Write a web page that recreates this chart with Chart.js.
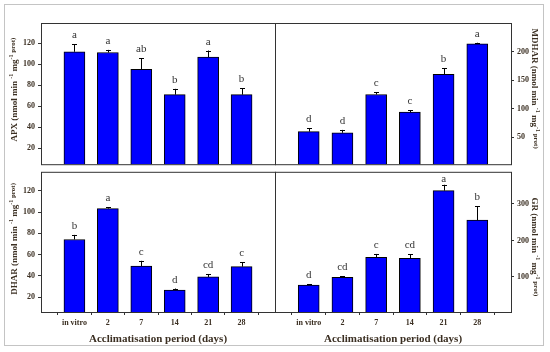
<!DOCTYPE html>
<html>
<head>
<meta charset="utf-8">
<script src="https://cdn.jsdelivr.net/npm/chart.js@4"></script>
<style>
  body { margin: 0; background: #fff; }
  #stage { position: relative; width: 550px; height: 352px; overflow: hidden; }
  #frame { position: absolute; left: 4px; top: 4px; width: 540px; height: 342px; border: 1px solid #c4c4c4; box-sizing: border-box; }
  canvas { position: absolute; }
  #tl { left: 0; top: 0; }
  #tr { left: 272px; top: 0; }
  #bl { left: 0; top: 164px; }
  #br { left: 272px; top: 164px; }
</style>
</head>
<body>
<div id="stage">
  <div id="frame"></div>
  <canvas id="tl" width="280" height="172"></canvas>
  <canvas id="tr" width="278" height="172"></canvas>
  <canvas id="bl" width="280" height="188"></canvas>
  <canvas id="br" width="278" height="188"></canvas>
</div>
<script>
const periods = ['in vitro', '2', '7', '14', '21', '28'];

const apx = [111.7, 111, 95, 71, 106.7, 71];
const apxErr = [7.3, 2.5, 10.7, 5.5, 6.2, 6];
const apxLetters = ['a', 'a', 'ab', 'b', 'a', 'b'];
const apxTicks = [20, 40, 60, 80, 100, 120];

const mdhar = [60, 58, 125, 94, 160, 213.5];
const mdharErr = [6, 5, 4, 3.5, 11, 2];
const mdharLetters = ['d', 'd', 'c', 'c', 'b', 'a'];
const mdharTicks = [50, 100, 150, 200];

const dhar = [74.3, 103.4, 49.3, 26.6, 39, 48.7];
const dharErr = [4.3, 1.2, 4.9, 1.5, 2.8, 4.3];
const dharLetters = ['b', 'a', 'c', 'd', 'cd', 'c'];
const dharTicks = [20, 40, 60, 80, 100, 120];

const gr = [78, 99, 154, 151, 336.5, 255.5];
const grErr = [2, 3.5, 9, 10.5, 16, 38.5];
const grLetters = ['d', 'cd', 'c', 'cd', 'a', 'b'];
const grTicks = [100, 200, 300];

const xTitle = 'Acclimatisation period (days)';

const LABEL_COLOR = '#3b2f22';
const LINE_COLOR = '#333';
const SERIF = "'Liberation Serif', 'DejaVu Serif', serif";

// one empty slot on each side so bar centres sit at 1..6 of 0..7
const paddedLabels = ['', ...periods, ''];
const pad = (arr) => [null, ...arr, null];

function titleParts(name) {
  const main = `bold 9px ${SERIF}`;
  const sup = `bold 6px ${SERIF}`;
  return [
    { text: `${name} (nmol min `, font: main, dy: 0 },
    { text: '-1', font: sup, dy: -4 },
    { text: ' mg', font: main, dy: 0 },
    { text: '-1', font: sup, dy: -4 },
    { text: ' prot)', font: `bold 7px ${SERIF}`, dy: -2 }
  ];
}

function drawRotated(ctx, parts, cx, cy, angle) {
  ctx.save();
  ctx.translate(cx, cy);
  ctx.rotate(angle);
  let total = 0;
  parts.forEach((p) => {
    ctx.font = p.font;
    total += ctx.measureText(p.text).width;
  });
  let x = -total / 2;
  ctx.textAlign = 'left';
  ctx.textBaseline = 'middle';
  ctx.fillStyle = LABEL_COLOR;
  parts.forEach((p) => {
    ctx.font = p.font;
    ctx.fillText(p.text, x, p.dy);
    x += ctx.measureText(p.text).width;
  });
  ctx.restore();
}

// box, error bars, letters and titles
const panelDecor = {
  id: 'panelDecor',
  afterDatasetsDraw(chart) {
    const cfg = chart.options.plugins.panelDecor;
    const { ctx, chartArea: a } = chart;
    const yScale = chart.scales.y;
    const meta = chart.getDatasetMeta(0);

    ctx.save();
    ctx.strokeStyle = LINE_COLOR;
    ctx.lineWidth = 1;
    ctx.strokeRect(a.left + 0.5, a.top + 0.5, a.right - a.left, a.bottom - a.top);

    ctx.strokeStyle = '#000';
    meta.data.forEach((bar, i) => {
      const idx = i - 1;
      if (idx < 0 || idx >= cfg.values.length) return;
      const top = yScale.getPixelForValue(cfg.values[idx] + cfg.errors[idx]);
      const x = Math.round(bar.x) + 0.5;
      ctx.beginPath();
      ctx.moveTo(x, bar.y);
      ctx.lineTo(x, top);
      ctx.moveTo(x - 2.5, Math.round(top) + 0.5);
      ctx.lineTo(x + 2.5, Math.round(top) + 0.5);
      ctx.stroke();

      ctx.fillStyle = '#333';
      ctx.font = `11px ${SERIF}`;
      ctx.textAlign = 'center';
      ctx.textBaseline = 'alphabetic';
      const base = Math.max(top - 6, a.top + 10);
      ctx.fillText(cfg.letters[idx], bar.x, base);
    });

    const midY = (a.top + a.bottom) / 2 + cfg.titleShift;
    if (cfg.side === 'left') {
      drawRotated(ctx, titleParts(cfg.name), a.left - 26, midY, -Math.PI / 2);
    } else {
      drawRotated(ctx, titleParts(cfg.name), a.right + 23, midY, Math.PI / 2);
    }

    if (cfg.showX) {
      ctx.fillStyle = LABEL_COLOR;
      ctx.font = `bold 11px ${SERIF}`;
      ctx.textAlign = 'center';
      ctx.textBaseline = 'middle';
      ctx.fillText(xTitle, (a.left + a.right) / 2, a.bottom + 27);
    }
    ctx.restore();
  }
};

function makePanel(id, p) {
  const showX = p.row === 'bottom';
  const layoutPad = {
    top: p.row === 'top' ? 23 : 4,
    left: p.side === 'left' ? 0 : 3,
    right: p.side === 'left' ? 5 : 0,
    bottom: 0
  };

  new Chart(document.getElementById(id), {
    type: 'bar',
    data: {
      labels: paddedLabels,
      datasets: [{
        data: pad(p.values),
        backgroundColor: '#0000ff',
        borderColor: '#000',
        borderWidth: 1,
        borderSkipped: 'bottom',
        barThickness: 21
      }]
    },
    options: {
      responsive: false,
      animation: false,
      devicePixelRatio: 1,
      layout: { padding: layoutPad },
      plugins: {
        legend: { display: false },
        tooltip: { enabled: false },
        panelDecor: {
          values: p.values,
          errors: p.errors,
          letters: p.letters,
          name: p.name,
          side: p.side,
          titleShift: p.titleShift,
          showX
        }
      },
      scales: {
        x: {
          type: 'category',
          offset: false,
          border: { display: false },
          grid: {
            display: showX,
            drawOnChartArea: false,
            tickLength: 3,
            color: LINE_COLOR
          },
          ticks: {
            display: showX,
            maxRotation: 0,
            autoSkip: false,
            padding: 3,
            color: LABEL_COLOR,
            font: { family: SERIF, size: 8, weight: 'bold' }
          },
          afterBuildTicks(scale) {
            scale.ticks = scale.ticks.filter((t) => t.value >= 1 && t.value <= periods.length);
          },
          afterFit(scale) {
            scale.height = showX ? 40 : 4;
          }
        },
        y: {
          position: p.side,
          min: p.min,
          max: p.max,
          border: { display: false },
          grid: {
            drawOnChartArea: false,
            tickLength: 3,
            color: LINE_COLOR
          },
          ticks: {
            padding: 3,
            color: LABEL_COLOR,
            font: { family: SERIF, size: 8, weight: 'bold' }
          },
          afterBuildTicks(scale) {
            scale.ticks = p.ticks.map((v) => ({ value: v }));
          },
          afterFit(scale) {
            scale.width = p.side === 'left' ? 41 : 39;
          }
        }
      }
    },
    plugins: [panelDecor]
  });
}

makePanel('tl', { row: 'top', side: 'left', name: 'APX', values: apx, errors: apxErr,
  letters: apxLetters, ticks: apxTicks, min: 5, max: 139, titleShift: -4 });
makePanel('tr', { row: 'top', side: 'right', name: 'MDHAR', values: mdhar, errors: mdharErr,
  letters: mdharLetters, ticks: mdharTicks, min: 3, max: 250, titleShift: -5 });
makePanel('bl', { row: 'bottom', side: 'left', name: 'DHAR', values: dhar, errors: dharErr,
  letters: dharLetters, ticks: dharTicks, min: 6, max: 138, titleShift: -3 });
makePanel('br', { row: 'bottom', side: 'right', name: 'GR', values: gr, errors: grErr,
  letters: grLetters, ticks: grTicks, min: 4, max: 388, titleShift: 5 });
</script>
</body>
</html>
